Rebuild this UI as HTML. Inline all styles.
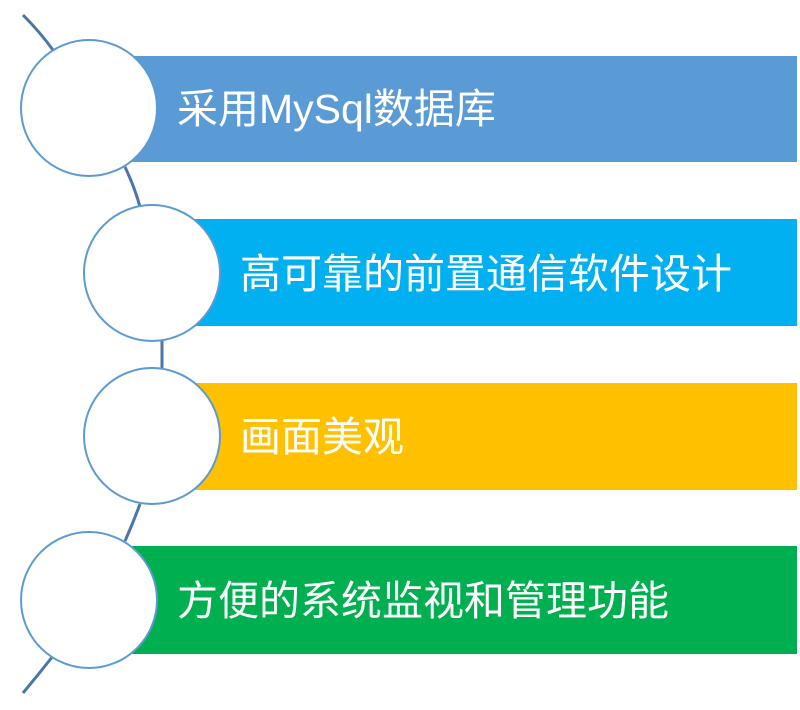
<!DOCTYPE html>
<html><head><meta charset="utf-8"><style>
body{margin:0;background:#fff;}
svg{display:block}
text{font-family:"Liberation Sans","Noto Sans CJK SC",sans-serif;font-size:41px;fill:#fff;}
</style></head><body>
<svg width="800" height="710" viewBox="0 0 800 710">
<g fill="none" stroke="#4a76a8" stroke-width="3">
<path d="M23,15 Q40,32 53,50"/>
<path d="M125,167 Q135,188 140,207"/>
<path d="M162,340 L162,369"/>
<path d="M140,504 Q133,523 125,541"/>
<path d="M53,656 Q38,675 23,693"/>
</g>
<rect x="130" y="56" width="667" height="106" fill="#5b9bd5"/>
<rect x="195" y="219" width="602" height="107" fill="#00b0f0"/>
<rect x="195" y="383" width="602" height="107" fill="#ffc000"/>
<rect x="130" y="546" width="667" height="108" fill="#00b050"/>
<g fill="#fff" stroke="#5b9bd5" stroke-width="2">
<circle cx="89" cy="108" r="68"/>
<circle cx="152" cy="273" r="68"/>
<circle cx="152" cy="436" r="68"/>
<circle cx="89" cy="600" r="68"/>
</g>
<text x="177" y="123">采用MySql数据库</text>
<text x="240" y="288">高可靠的前置通信软件设计</text>
<text x="240" y="451">画面美观</text>
<text x="177" y="615">方便的系统监视和管理功能</text>
</svg>
</body></html>
